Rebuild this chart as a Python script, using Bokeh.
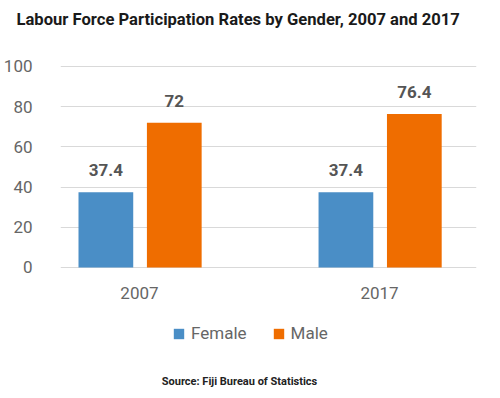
from bokeh.plotting import figure
from bokeh.models import (ColumnDataSource, LabelSet, Label, Legend, LegendItem,
                          FixedTicker, Range1d)
from bokeh.core.properties import value
from bokeh.transform import dodge
from bokeh.embed import file_html
from bokeh.resources import INLINE

years = ["2007", "2017"]
female = [37.4, 37.4]
male = [72, 76.4]
y_ticks = [0, 20, 40, 60, 80, 100]
title_text = "Labour Force Participation Rates by Gender, 2007 and 2017"
source_text = "Source: Fiji Bureau of Statistics"

FONT = "Roboto"
src = ColumnDataSource(dict(
    xi=list(range(len(years))),
    base=[0] * len(years),
    year=years,
    female=female,
    male=male,
    female_lbl=["{:g}".format(v) for v in female],
    male_lbl=["{:g}".format(v) for v in male],
))

p = figure(width=484, height=388, output_backend="svg", toolbar_location=None,
           x_range=Range1d(-0.329, 1.404), y_range=Range1d(-60.2, 117.9),
           min_border_left=52, min_border_right=8, min_border_top=30,
           min_border_bottom=0)
p.outline_line_color = None
p.background_fill_color = "white"
p.border_fill_color = "white"

p.title.text = title_text
p.title.text_font = FONT
p.title.text_font_size = "16.6px"
p.title.text_font_style = "bold"
p.title.text_color = "#1a1a1a"
p.title.align = "left"
p.title.vertical_align = "bottom"
p.title.offset = -44
p.title.standoff = 4

bf = p.vbar(x=dodge("xi", -0.14, range=p.x_range), top="female", width=0.228,
            source=src, fill_color="#4a8ec6", line_color=None)
bm = p.vbar(x=dodge("xi", 0.145, range=p.x_range), top="male", width=0.228,
            source=src, fill_color="#ef6d00", line_color=None)

for col, off in (("female", -0.14), ("male", 0.145)):
    p.add_layout(LabelSet(x=dodge("xi", off, range=p.x_range), y=col,
                          text=col + "_lbl", source=src, y_offset=16,
                          text_align="center", text_baseline="alphabetic",
                          text_font=value(FONT), text_font_size="17px",
                          text_font_style="bold", text_color="#555555"))

# category labels under the groups
p.add_layout(LabelSet(x="xi", y="base", text="year", source=src, y_offset=-32,
                      text_align="center", text_baseline="alphabetic",
                      text_font=value(FONT), text_font_size="17px",
                      text_color="#666666"))

p.yaxis.ticker = FixedTicker(ticks=y_ticks)
p.yaxis.axis_line_color = None
p.yaxis.major_tick_line_color = None
p.yaxis.minor_tick_line_color = None
p.yaxis.major_label_standoff = 22
p.yaxis.major_label_text_font = FONT
p.yaxis.major_label_text_font_size = "17px"
p.yaxis.major_label_text_color = "#666666"

p.xaxis.visible = False

p.xgrid.grid_line_color = None
p.ygrid.grid_line_color = "#d9d9d9"
p.ygrid.ticker = FixedTicker(ticks=y_ticks)

p.add_layout(Label(x=179, y=7, x_units="screen", y_units="screen",
                   text=source_text, text_font=FONT, text_font_size="11px",
                   text_font_style="bold", text_color="#222222",
                   text_align="center", text_baseline="alphabetic"))

legend = Legend(items=[LegendItem(label="Female", renderers=[bf]),
                       LegendItem(label="Male", renderers=[bm])],
                orientation="horizontal", location=(112, 45),
                label_text_font=FONT, label_text_font_size="17px",
                label_text_color="#666666", glyph_width=13, glyph_height=13,
                spacing=25, label_standoff=6, border_line_color=None,
                background_fill_alpha=0, margin=0, padding=0)
p.add_layout(legend)

open("out.html", "w").write(file_html(p, INLINE))
